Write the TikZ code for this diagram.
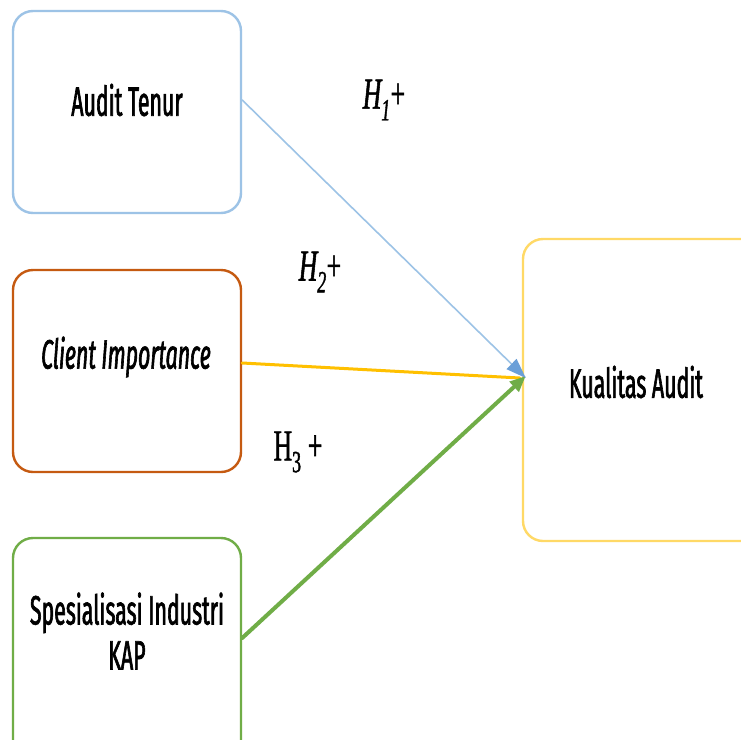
\documentclass[tikz,border=0pt]{standalone}
\usepackage{fontspec}
\setmainfont{Liberation Serif}
\newfontfamily\boxfont[FakeStretch=0.52,FakeBold=1.5]{Fira Sans}
\newfontfamily\hfont[FakeStretch=0.58,FakeBold=1.2]{Liberation Serif}
\usetikzlibrary{arrows.meta}
\definecolor{cblue}{HTML}{9DC3E6}
\definecolor{cbluearr}{HTML}{6A9FD8}
\definecolor{corange}{HTML}{C55A11}
\definecolor{cgreen}{HTML}{70AD47}
\definecolor{cyellow}{HTML}{FFD966}
\definecolor{cyellowarr}{HTML}{FFC000}
\begin{document}
\begin{tikzpicture}[x=1pt,y=-1pt,
  varbox/.style={draw, line width=2.4pt, rounded corners=20pt, fill=white, minimum width=228pt, inner sep=0pt},
  boxtext/.style={font=\boxfont\fontsize{41}{43}\selectfont, align=center, inner sep=0pt},
  hlabel/.style={font=\hfont\fontsize{44}{46}\selectfont, inner sep=0pt},
  conn/.style={line cap=round}
]
\useasboundingbox (0,0) rectangle (741,739);
\fill[white] (0,0) rectangle (741,739);
% boxes
\node[varbox, draw=cblue, minimum height=202pt] (at) at (127,112) {};
\node[varbox, draw=corange, minimum height=202pt] (ci) at (127,371) {};
\node[varbox, draw=cgreen, minimum height=230pt] (sk) at (127,653) {};
\node[varbox, draw=cyellow, minimum width=240pt, minimum height=302pt] (ka) at (643,390) {};
% texts
\node[boxtext] (atT) at (127,100) {Audit Tenur};
\node[boxtext] (ciT) at (126,357) {\itshape Client Importance};
\node[boxtext] (skT) at (127,631) {Spesialisasi Industri\\[2pt]KAP};
\node[boxtext] (kaT) at (636,382) {Kualitas Audit};
% labels
\node[hlabel] (h1) at (384,100) {\itshape H\textsubscript{1}\upshape+};
\node[hlabel] (h2) at (320,272) {\itshape H\textsubscript{2}\upshape+};
\node[hlabel] (h3) at (298,452) {H\textsubscript{3} +};
% connectors
\coordinate (tip) at ([xshift=4pt,yshift=12pt]ka.west);
\draw[conn, cyellowarr, line width=3pt] ([yshift=8pt]ci.east) -- ([xshift=-6pt]tip);
\draw[conn, cgreen, line width=4pt, -{Triangle[length=16pt,width=13pt]}] ([yshift=15pt]sk.east) -- ([yshift=2pt]tip);
\draw[conn, cblue, line width=1.6pt, -{Triangle[length=20pt,width=14pt,fill=cbluearr,color=cbluearr]}] ([yshift=12pt]at.east) -- (tip);
\end{tikzpicture}
\end{document}
